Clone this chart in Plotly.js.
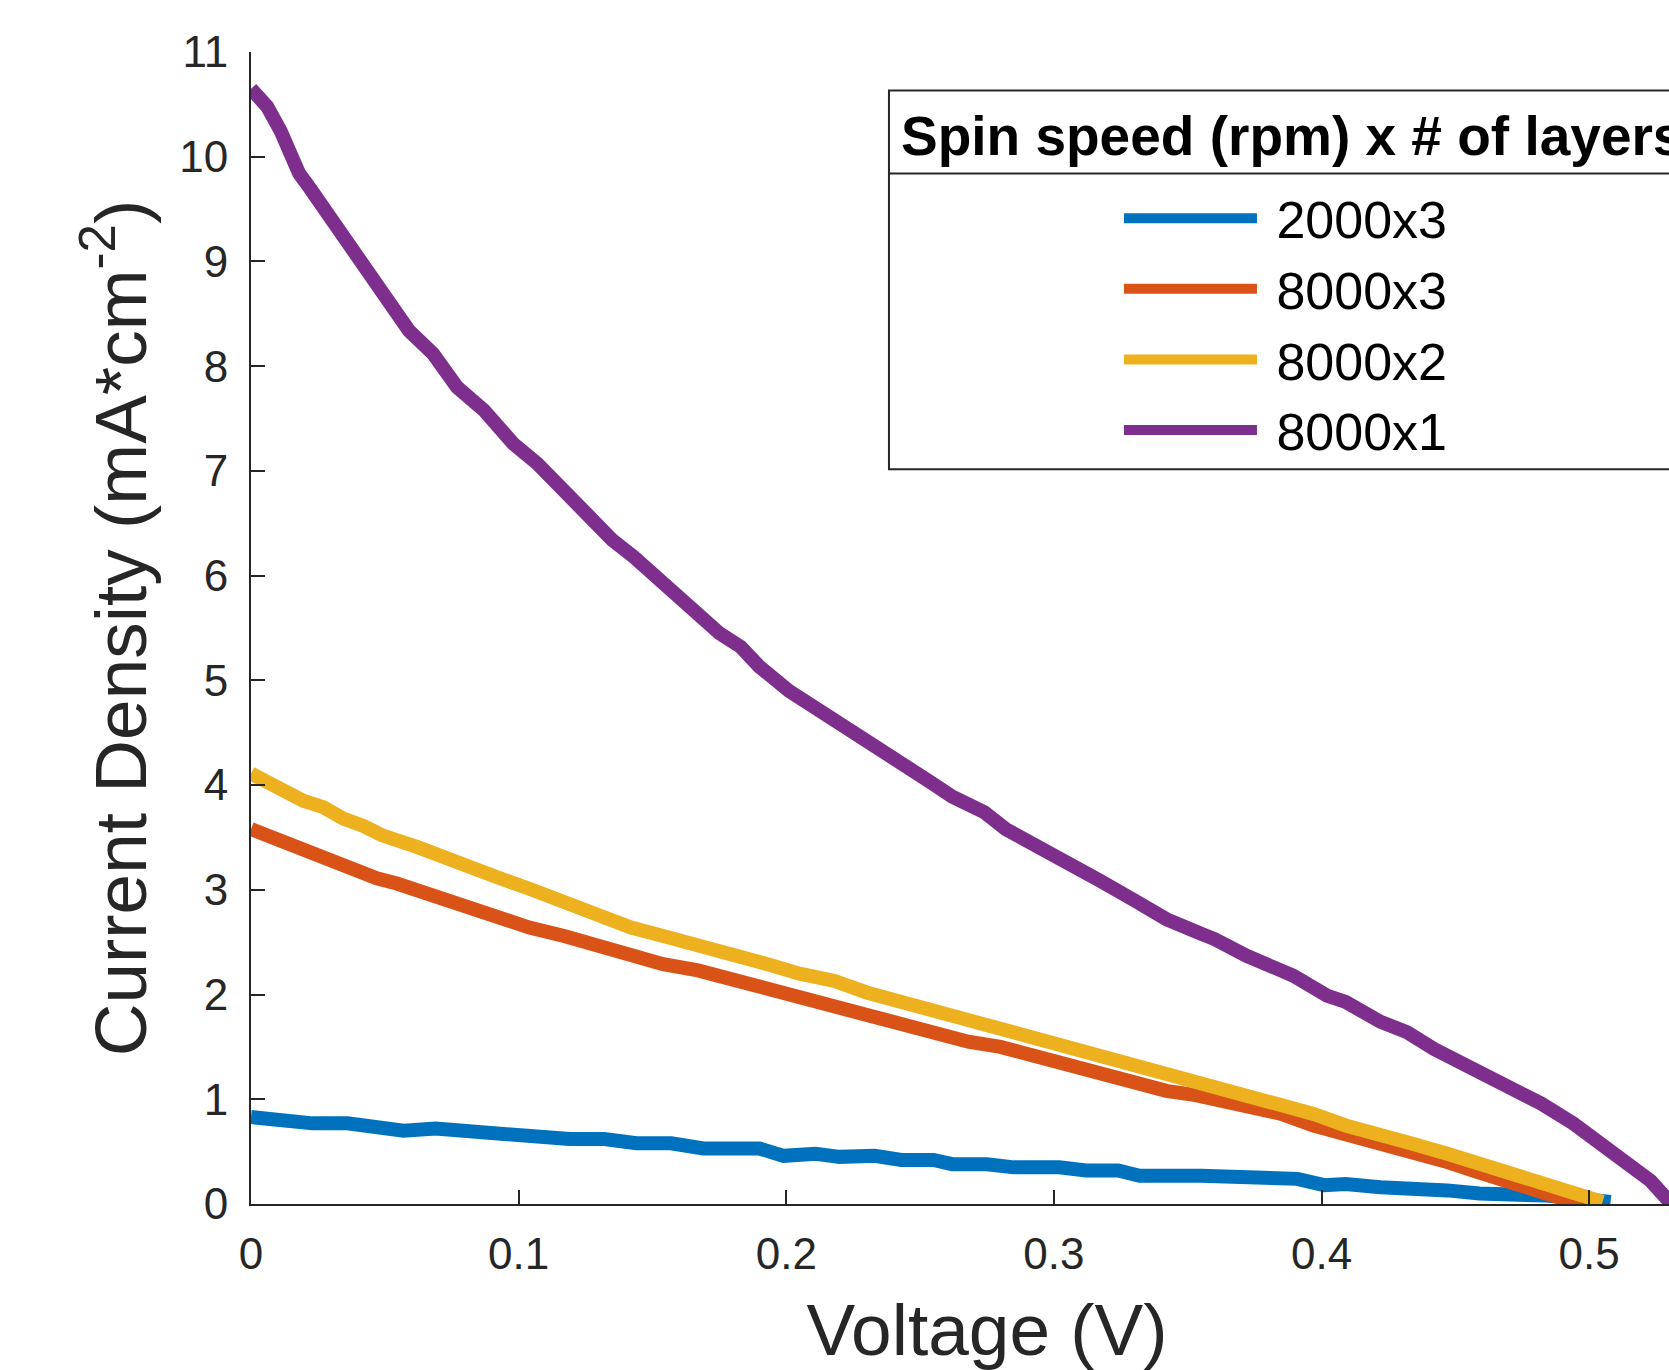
<!DOCTYPE html>
<html><head><meta charset="utf-8">
<script src="https://cdn.plot.ly/plotly-3.0.1.min.js"></script>
<style>html,body{margin:0;padding:0;overflow:hidden;background:#fff}</style>
</head><body><div id="chart"></div>
<script>
// Series labels
const seriesNames = ['2000x3', '8000x3', '8000x2', '8000x1'];
const seriesColors = ['#0072BD', '#D95319', '#EDB120', '#7E2F8E'];
const legendHeader = 'Spin speed (rpm) x # of layers';

// 2000x3
const v2000x3 = [0, 0.011, 0.023, 0.036, 0.045, 0.057, 0.069, 0.082, 0.094, 0.107, 0.119, 0.132, 0.144, 0.157, 0.169, 0.190, 0.199, 0.211, 0.220, 0.233, 0.243, 0.255, 0.262, 0.275, 0.285, 0.302, 0.312, 0.324, 0.332, 0.355, 0.375, 0.391, 0.401, 0.409, 0.422, 0.434, 0.447, 0.459, 0.472, 0.484, 0.497, 0.508];
const j2000x3 = [0.83, 0.80, 0.77, 0.77, 0.73, 0.70, 0.72, 0.69, 0.65, 0.65, 0.62, 0.62, 0.58, 0.58, 0.53, 0.53, 0.46, 0.48, 0.45, 0.46, 0.42, 0.42, 0.38, 0.38, 0.35, 0.35, 0.32, 0.32, 0.27, 0.27, 0.24, 0.24, 0.18, 0.19, 0.16, 0.16, 0.13, 0.10, 0.10, 0.08, 0.05, 0.02];

// 8000x3
const v8000x3 = [0, 0.011, 0.023, 0.033, 0.047, 0.0545, 0.067, 0.082, 0.091, 0.104, 0.117, 0.129, 0.142, 0.154, 0.167, 0.180, 0.193, 0.205, 0.218, 0.230, 0.243, 0.255, 0.268, 0.280, 0.292, 0.305, 0.317, 0.330, 0.342, 0.353, 0.360, 0.372, 0.385, 0.397, 0.409, 0.422, 0.434, 0.447, 0.459, 0.472, 0.484, 0.497];
const j8000x3 = [3.58, 3.47, 3.36, 3.23, 3.11, 3.06, 2.95, 2.82, 2.77, 2.64, 2.56, 2.47, 2.37, 2.29, 2.23, 2.14, 2.06, 1.96, 1.88, 1.78, 1.70, 1.63, 1.55, 1.50, 1.42, 1.32, 1.24, 1.16, 1.08, 1.04, 1.00, 0.94, 0.86, 0.75, 0.67, 0.59, 0.50, 0.40, 0.30, 0.21, 0.10, 0.0];

// 8000x2
const v8000x2 = [0, 0.012, 0.0195, 0.027, 0.0345, 0.042, 0.049, 0.062, 0.077, 0.084, 0.092, 0.104, 0.117, 0.129, 0.142, 0.154, 0.167, 0.180, 0.193, 0.205, 0.218, 0.230, 0.243, 0.255, 0.268, 0.280, 0.292, 0.305, 0.317, 0.330, 0.342, 0.347, 0.355, 0.360, 0.372, 0.385, 0.397, 0.409, 0.422, 0.434, 0.447, 0.459, 0.472, 0.484, 0.497, 0.505];
const j8000x2 = [4.11, 3.95, 3.85, 3.79, 3.68, 3.61, 3.52, 3.41, 3.26, 3.17, 3.12, 3.01, 2.88, 2.76, 2.64, 2.56, 2.48, 2.37, 2.29, 2.20, 2.13, 2.02, 1.93, 1.83, 1.75, 1.67, 1.59, 1.50, 1.40, 1.32, 1.24, 1.21, 1.16, 1.10, 1.02, 0.96, 0.86, 0.75, 0.67, 0.575, 0.48, 0.38, 0.29, 0.16, 0.065, 0.02];

// 8000x1
const v8000x1 = [0, 0.006, 0.011, 0.018, 0.022, 0.0295, 0.037, 0.0445, 0.052, 0.059, 0.068, 0.077, 0.087, 0.098, 0.107, 0.117, 0.125, 0.135, 0.143, 0.155, 0.168, 0.175, 0.183, 0.190, 0.201, 0.213, 0.224, 0.233, 0.245, 0.255, 0.262, 0.274, 0.282, 0.295, 0.305, 0.317, 0.330, 0.342, 0.355, 0.360, 0.372, 0.382, 0.3895, 0.402, 0.409, 0.422, 0.432, 0.442, 0.452, 0.462, 0.472, 0.482, 0.494, 0.504, 0.514, 0.523, 0.529, 0.532];
const j8000x1 = [10.65, 10.48, 10.25, 9.84, 9.70, 9.43, 9.15, 8.85, 8.60, 8.34, 8.12, 7.80, 7.58, 7.26, 7.07, 6.81, 6.56, 6.34, 6.18, 5.91, 5.64, 5.45, 5.32, 5.13, 4.90, 4.71, 4.52, 4.36, 4.20, 4.01, 3.89, 3.74, 3.58, 3.41, 3.26, 3.09, 2.90, 2.72, 2.58, 2.53, 2.37, 2.25, 2.18, 1.99, 1.93, 1.74, 1.64, 1.48, 1.35, 1.24, 1.10, 0.96, 0.77, 0.57, 0.38, 0.22, 0.05, 0.0];

const xs = [v2000x3, v8000x3, v8000x2, v8000x1];
const ys = [j2000x3, j8000x3, j8000x2, j8000x1];

const FONT = 'Liberation Sans, Arial, Helvetica, sans-serif';
const AX = '#262626';

const traces = seriesNames.map((n, i) => ({
  type: 'scatter', mode: 'lines', name: '\u00a0' + n,
  x: xs[i], y: ys[i],
  line: {color: seriesColors[i], width: 14}
}));

const layout = {
  width: 1740, height: 1370,
  margin: {l: 251, r: 17, t: 52, b: 166, pad: 0},
  paper_bgcolor: '#fff', plot_bgcolor: '#fff',
  showlegend: true,
  xaxis: {
    range: [0, 0.55], dtick: 0.1, tick0: 0,
    showgrid: false, zeroline: false,
    showline: true, linecolor: AX, linewidth: 2, mirror: false,
    ticks: 'inside', ticklen: 14, tickwidth: 2, tickcolor: AX,
    tickfont: {family: FONT, size: 44, color: AX},
    ticklabelstandoff: 10,
    automargin: false,
    title: {text: 'Voltage (V)', font: {family: FONT, size: 73, color: AX}, standoff: 33}
  },
  yaxis: {
    range: [0, 11], dtick: 1, tick0: 0,
    showgrid: false, zeroline: false,
    showline: true, linecolor: AX, linewidth: 2, mirror: false,
    ticks: 'inside', ticklen: 14, tickwidth: 2, tickcolor: AX,
    tickfont: {family: FONT, size: 44, color: AX},
    ticklabelstandoff: 12,
    automargin: false,
    title: {text: 'Current Density (mA*cm<sup>-2</sup>)', font: {family: FONT, size: 73, color: AX}, standoff: 9}
  },
  legend: {
    x: 0.4334, xanchor: 'left', y: 0.8907, yanchor: 'top',
    bgcolor: 'rgba(0,0,0,0)', borderwidth: 0,
    font: {family: FONT, size: 52, color: '#000'},
    itemwidth: 133, indentation: 230, traceorder: 'normal'
  },
  annotations: [{
    xref: 'paper', yref: 'paper', x: 0.4405, y: 0.9269,
    xanchor: 'left', yanchor: 'middle', showarrow: false,
    text: '<b>' + legendHeader + '</b>',
    font: {family: FONT, size: 55, color: '#000'}
  }],
  shapes: [
    {type: 'rect', xref: 'paper', yref: 'paper',
     x0: 0.4334, x1: 1.0, y0: 0.6377, y1: 0.9666,
     line: {color: AX, width: 2}, fillcolor: 'rgba(0,0,0,0)'},
    {type: 'line', xref: 'paper', yref: 'paper',
     x0: 0.4334, x1: 1.0, y0: 0.8945, y1: 0.8945,
     line: {color: AX, width: 2}}
  ]
};

Plotly.newPlot('chart', traces, layout, {displayModeBar: false, staticPlot: true});
</script>
</body></html>
